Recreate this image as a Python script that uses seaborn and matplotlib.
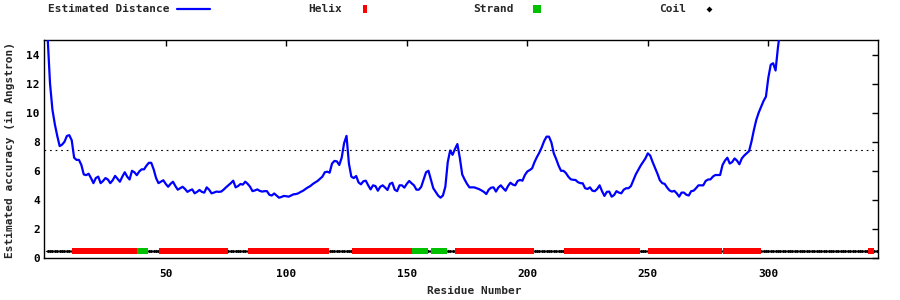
import matplotlib
matplotlib.use("Agg")
import matplotlib.pyplot as plt
from matplotlib.lines import Line2D
import numpy as np
import pandas as pd
import seaborn as sns

# ---------------- data ----------------
distance = [
    15.2, 12.0, 10.2, 9.2, 8.4, 7.7, 7.8, 8.0, 8.4, 8.45,
    8.1, 6.9, 6.75, 6.75, 6.4, 5.75, 5.7, 5.8, 5.5, 5.15,
    5.5, 5.6, 5.15, 5.3, 5.5, 5.4, 5.15, 5.35, 5.65, 5.45,
    5.25, 5.6, 5.9, 5.6, 5.4, 6.0, 5.9, 5.7, 5.95, 6.1,
    6.1, 6.35, 6.55, 6.55, 6.1, 5.5, 5.15, 5.25, 5.35, 5.1,
    4.9, 5.1, 5.25, 4.95, 4.7, 4.8, 4.9, 4.75, 4.55, 4.65,
    4.72, 4.45, 4.55, 4.68, 4.55, 4.5, 4.86, 4.7, 4.45, 4.5,
    4.57, 4.55, 4.57, 4.7, 4.86, 5.0, 5.15, 5.32, 4.86, 4.95,
    5.09, 5.05, 5.25, 5.1, 4.9, 4.6, 4.65, 4.72, 4.62, 4.57,
    4.6, 4.6, 4.35, 4.3, 4.44, 4.3, 4.15, 4.2, 4.27, 4.25,
    4.22, 4.3, 4.38, 4.4, 4.45, 4.55, 4.63, 4.75, 4.86, 4.95,
    5.09, 5.2, 5.3, 5.45, 5.6, 5.9, 5.94, 5.87, 6.5, 6.68,
    6.65, 6.4, 6.9, 7.9, 8.4, 6.5, 5.6, 5.5, 5.64, 5.2,
    5.07, 5.28, 5.32, 5.0, 4.72, 5.0, 4.95, 4.63, 4.9, 5.0,
    4.85, 4.68, 5.1, 5.18, 4.7, 4.6, 5.0, 5.0, 4.84, 5.1,
    5.3, 5.14, 5.0, 4.7, 4.7, 4.9, 5.4, 5.9, 6.0, 5.4,
    4.8, 4.55, 4.3, 4.15, 4.3, 4.9, 6.6, 7.4, 7.1, 7.5,
    7.84, 6.9, 5.75, 5.4, 5.1, 4.86, 4.86, 4.86, 4.8, 4.74,
    4.65, 4.55, 4.4, 4.7, 4.84, 4.86, 4.57, 4.85, 5.0, 4.8,
    4.63, 4.95, 5.18, 5.05, 5.0, 5.3, 5.37, 5.32, 5.71, 5.95,
    6.05, 6.17, 6.6, 6.95, 7.25, 7.62, 8.05, 8.35, 8.35, 7.95,
    7.2, 6.8, 6.35, 6.0, 6.0, 5.85, 5.6, 5.42, 5.38, 5.37,
    5.22, 5.15, 5.14, 4.8, 4.75, 4.86, 4.63, 4.6, 4.75, 5.0,
    4.6, 4.27, 4.55, 4.57, 4.22, 4.33, 4.6, 4.5, 4.45, 4.7,
    4.8, 4.8, 4.95, 5.35, 5.75, 6.05, 6.35, 6.6, 6.85, 7.2,
    7.05, 6.6, 6.2, 5.8, 5.35, 5.15, 5.1, 4.85, 4.65, 4.57,
    4.62, 4.45, 4.22, 4.5, 4.5, 4.35, 4.3, 4.6, 4.63, 4.8,
    5.0, 5.0, 5.0, 5.3, 5.4, 5.41, 5.6, 5.71, 5.71, 5.71,
    6.4, 6.7, 6.9, 6.5, 6.6, 6.85, 6.7, 6.45, 6.85, 7.05,
    7.2, 7.35, 8.0, 8.8, 9.5, 10.0, 10.4, 10.8, 11.1, 12.4,
    13.3, 13.4, 12.9, 14.5, 15.8,
]
residues = list(range(1, len(distance) + 1))

threshold = 7.43
ss_level = 0.5
seq_length = 345

# secondary structure segments: (type, first residue, last residue)
ss_type = ["C", "H", "E", "C", "H", "C", "H", "C", "H", "E", "C", "E", "C",
           "H", "C", "H", "C", "H", "C", "H", "C", "H", "C"]
ss_start = [1, 12, 39, 43, 48, 76, 85, 118, 128, 153, 159, 161, 167,
            171, 203, 216, 247, 251, 281, 282, 297, 342, 344]
ss_end = [11, 38, 42, 47, 75, 84, 117, 127, 152, 158, 160, 166, 170,
          202, 215, 246, 250, 280, 281, 296, 341, 343, 345]

legend_labels = ["Estimated Distance", "Helix", "Strand", "Coil"]
x_ticks = [50, 100, 150, 200, 250, 300]
y_ticks = [0, 2, 4, 6, 8, 10, 12, 14]

# ---------------- style ----------------
sns.set_theme(style="white")
plt.rcParams["font.family"] = ["DejaVu Sans Mono"]
plt.rcParams["font.weight"] = "bold"

fig = plt.figure(figsize=(9, 3), dpi=100)
ax = fig.add_axes([44 / 900, 42 / 300, 834 / 900, 218 / 300])

# per-residue secondary structure table
rows = []
for t, s, e in zip(ss_type, ss_start, ss_end):
    for r in range(s, e + 1):
        rows.append((r, t))
ss_df = pd.DataFrame(rows, columns=["residue", "ss"])
ss_df["level"] = ss_level

coil = ss_df[ss_df.ss == "C"]
helix = ss_df[ss_df.ss == "H"]
strand = ss_df[ss_df.ss == "E"]

flat_diamond = [(-1, 0), (0, 0.55), (1, 0), (0, -0.55), (-1, 0)]
tall_rect = [(-0.45, -1), (0.45, -1), (0.45, 1), (-0.45, 1), (-0.45, -1)]
ax.plot(coil.residue, coil.level, ls="none", marker=flat_diamond, ms=4.2,
        color="black", mew=0, zorder=3)
ax.plot(helix.residue, helix.level, ls="none", marker=tall_rect, ms=5.0,
        color="#ff0000", mew=0, zorder=4)
ax.plot(strand.residue, strand.level, ls="none", marker=tall_rect, ms=5.0,
        color="#00c000", mew=0, zorder=4)

dist_df = pd.DataFrame({"residue": residues, "distance": distance})
sns.lineplot(data=dist_df, x="residue", y="distance", color="#0000ff",
             linewidth=1.6, ax=ax, zorder=5)

ax.axhline(threshold, color="black", lw=0.8, ls=(0, (1.5, 3.5)), zorder=2)

ax.set_xlim(-0.5, seq_length + 0.5)
ax.set_ylim(0, 15)
ax.set_xticks(x_ticks)
ax.set_yticks(y_ticks)
ax.tick_params(direction="in", length=4, width=1, top=True, right=True,
               labelsize=8, colors="black")
ax.tick_params(axis="x", pad=8)
ax.tick_params(axis="y", pad=3)
for lab in ax.get_xticklabels() + ax.get_yticklabels():
    lab.set_fontweight("bold")
for sp in ax.spines.values():
    sp.set_color("black")
    sp.set_linewidth(1.0)
ax.set_xlabel("")
ax.set_ylabel("")

fig.text(474 / 900, 1 - 291 / 300, "Residue Number", ha="center", va="center",
         fontsize=8, fontweight="bold")
fig.text(10 / 900, 1 - 150 / 300, "Estimated accuracy (in Angstron)", ha="center",
         va="center", rotation=90, fontsize=8, fontweight="bold")

# ---------------- legend (gnuplot style key) ----------------
ly = 1 - 9 / 300
text_right = [170, 342, 514, 686]
sample_c = [193, 365, 537, 709]
for lab, tr in zip(legend_labels, text_right):
    fig.text(tr / 900, ly, lab, ha="right", va="center", fontsize=8,
             fontweight="bold")
fig.add_artist(Line2D([(sample_c[0] - 16) / 900, (sample_c[0] + 17) / 900],
                      [ly, ly], color="#0000ff", lw=1.6))
rect_marker = [(-0.5, -1), (0.5, -1), (0.5, 1), (-0.5, 1), (-0.5, -1)]
fig.add_artist(Line2D([sample_c[1] / 900], [ly], marker=rect_marker, ms=6,
                      color="#ff0000", mew=0))
fig.add_artist(Line2D([sample_c[2] / 900], [ly], marker="s", ms=5.5,
                      color="#00c000", mew=0))
fig.add_artist(Line2D([sample_c[3] / 900], [ly], marker="D", ms=3,
                      color="black", mew=0))

fig.savefig("out.png", dpi=100)
